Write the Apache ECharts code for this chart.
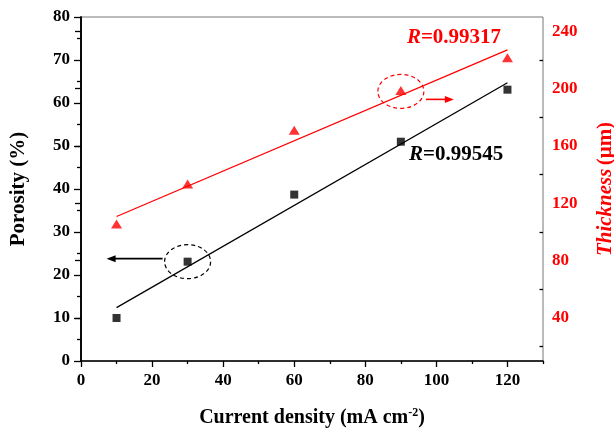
<!DOCTYPE html>
<html>
<head>
<meta charset="utf-8">
<script src="https://cdn.jsdelivr.net/npm/echarts@6/dist/echarts.min.js"></script>
<style>
  html, body { margin: 0; padding: 0; background: #fff; }
  #chart { width: 614px; height: 432px; }
</style>
</head>
<body>
<div id="chart"></div>
<script>
const currentDensity = [10, 30, 60, 90, 120];
const porosity = [10, 23.1, 38.7, 51, 63.1];
const thickness = [105.5, 133.5, 171, 198.8, 221.5];
// fitted lines, end points
const porosityFit = [[10, 12.4], [120, 64.7]];
const thicknessFit = [[10, 110.8], [120, 227]];
const xMajor = [0, 20, 40, 60, 80, 100, 120];
const xMinor = [10, 30, 50, 70, 90, 110, 130];
const rightMajor = [40, 80, 120, 160, 200, 240];
const rightMinor = [20, 60, 100, 140, 180, 220];

const FONT = "Liberation Serif";
const chart = echarts.init(document.getElementById("chart"));

const labelStyle = (color) => ({
  color: color,
  fontFamily: FONT,
  fontWeight: "bold",
  fontSize: 17,
});

chart.setOption({
  animation: false,
  grid: {
    left: 81,
    right: 71,
    top: 17,
    bottom: 71,
    outerBoundsMode: "none",
    show: true,
    borderColor: "#777",
    borderWidth: 1,
  },
  xAxis: [
    {
      type: "value",
      min: 0,
      max: 130,
      name: "{t|Current density (mA cm}{s|-2}{t|)}",
      nameLocation: "middle",
      nameGap: 46,
      nameTextStyle: {
        rich: {
          t: { fontFamily: FONT, fontWeight: "bold", fontSize: 20, color: "#000" },
          s: { fontFamily: FONT, fontWeight: "bold", fontSize: 12, color: "#000", verticalAlign: "top", padding: [0, 0, 10, 0] },
        },
      },
      axisLine: { lineStyle: { color: "#000", width: 1.5 } },
      axisTick: { customValues: xMajor, length: 6, lineStyle: { color: "#000", width: 1.3 } },
      axisLabel: { ...labelStyle("#000"), customValues: xMajor, margin: 11 },
      splitLine: { show: false },
    },
    {
      type: "value",
      min: 0,
      max: 130,
      position: "bottom",
      axisLine: { show: false },
      axisTick: { customValues: xMinor, length: 3, lineStyle: { color: "#000", width: 1.3 } },
      axisLabel: { show: false },
      splitLine: { show: false },
    },
  ],
  yAxis: [
    {
      type: "value",
      min: 0,
      max: 80,
      interval: 10,
      name: "Porosity (%)",
      nameLocation: "middle",
      nameGap: 52,
      nameTextStyle: { fontFamily: FONT, fontWeight: "bold", fontSize: 21, color: "#000" },
      axisLine: { show: true, lineStyle: { color: "#000", width: 1.5 } },
      axisTick: { show: true, length: 7, lineStyle: { color: "#000", width: 1.3 } },
      minorTick: { show: true, splitNumber: 2, length: 4, lineStyle: { color: "#000", width: 1.3 } },
      axisLabel: { ...labelStyle("#000"), margin: 11 },
      splitLine: { show: false },
    },
    {
      type: "value",
      min: 10,
      max: 250,
      position: "right",
      name: "{i|Thickness} {b|(μm)}",
      nameLocation: "middle",
      nameGap: 52,
      nameRotate: 90,
      nameTextStyle: {
        rich: {
          i: { fontFamily: FONT, fontWeight: "bold", fontStyle: "italic", fontSize: 21, color: "#ff0000" },
          b: { fontFamily: FONT, fontWeight: "bold", fontSize: 21, color: "#ff0000" },
        },
      },
      axisLine: { show: true, lineStyle: { color: "#000", width: 1.5 } },
      axisTick: { show: true, inside: true, customValues: rightMajor, length: 6, lineStyle: { color: "#000", width: 1.3 } },
      axisLabel: { ...labelStyle("#ff0000"), customValues: rightMajor, margin: 9 },
      splitLine: { show: false },
    },
    {
      type: "value",
      min: 10,
      max: 250,
      position: "right",
      axisLine: { show: false },
      axisTick: { show: true, inside: true, customValues: rightMinor, length: 3.5, lineStyle: { color: "#000", width: 1.3 } },
      axisLabel: { show: false },
      splitLine: { show: false },
    },
  ],
  series: [
    {
      name: "porosity fit",
      type: "line",
      data: porosityFit,
      showSymbol: false,
      lineStyle: { color: "#000", width: 1.3 },
      z: 1,
    },
    {
      name: "thickness fit",
      type: "line",
      yAxisIndex: 1,
      data: thicknessFit,
      showSymbol: false,
      lineStyle: { color: "#ff0000", width: 1.3 },
      z: 1,
    },
    {
      name: "Porosity",
      type: "scatter",
      data: currentDensity.map((x, i) => [x, porosity[i]]),
      symbol: "rect",
      symbolSize: 8,
      itemStyle: { color: "#000" },
      z: 3,
    },
    {
      name: "Thickness",
      type: "scatter",
      yAxisIndex: 1,
      data: currentDensity.map((x, i) => [x, thickness[i]]),
      symbol: "triangle",
      symbolSize: [11, 9],
      itemStyle: { color: "#ff0000" },
      z: 3,
    },
  ],
});

// annotations: R values, dashed circles and arrows anchored on data points
const blackAnchor = chart.convertToPixel({ xAxisIndex: 0, yAxisIndex: 0 }, [currentDensity[1], porosity[1]]);
const redAnchor = chart.convertToPixel({ xAxisIndex: 0, yAxisIndex: 1 }, [currentDensity[3], thickness[3]]);
const redText = chart.convertToPixel({ xAxisIndex: 0, yAxisIndex: 0 }, [91.7, 75.3]);
const blackText = chart.convertToPixel({ xAxisIndex: 0, yAxisIndex: 0 }, [92.3, 47.9]);

const rText = (pos, value, color) => ({
  type: "text",
  x: pos[0],
  y: pos[1],
  style: {
    text: "{i|R}{n|=" + value + "}",
    verticalAlign: "middle",
    rich: {
      i: { fontFamily: FONT, fontWeight: "bold", fontStyle: "italic", fontSize: 21, fill: color },
      n: { fontFamily: FONT, fontWeight: "bold", fontSize: 21, fill: color },
    },
  },
  z: 10,
});

const arrow = (x1, x2, y, color) => {
  const dir = x2 > x1 ? 1 : -1;
  return [
    { type: "line", shape: { x1: x1, y1: y, x2: x2 - dir * 6, y2: y }, style: { stroke: color, lineWidth: 1.6 }, z: 10 },
    {
      type: "polygon",
      shape: { points: [[x2, y], [x2 - dir * 9, y - 3.5], [x2 - dir * 9, y + 3.5]] },
      style: { fill: color },
      z: 10,
    },
  ];
};

chart.setOption({
  graphic: [
    rText(redText, "0.99317", "#ff0000"),
    rText(blackText, "0.99545", "#000"),
    {
      type: "ellipse",
      shape: { cx: blackAnchor[0], cy: blackAnchor[1], rx: 23, ry: 17 },
      style: { fill: "none", stroke: "#000", lineWidth: 1.2, lineDash: [4, 3] },
      z: 10,
    },
    {
      type: "ellipse",
      shape: { cx: redAnchor[0], cy: redAnchor[1] + 1, rx: 23, ry: 17 },
      style: { fill: "none", stroke: "#ff0000", lineWidth: 1.2, lineDash: [4, 3] },
      z: 10,
    },
    ...arrow(blackAnchor[0] - 25, blackAnchor[0] - 81, blackAnchor[1] - 3, "#000"),
    ...arrow(redAnchor[0] + 25, redAnchor[0] + 53, redAnchor[1] + 9, "#ff0000"),
  ],
});
</script>
</body>
</html>
